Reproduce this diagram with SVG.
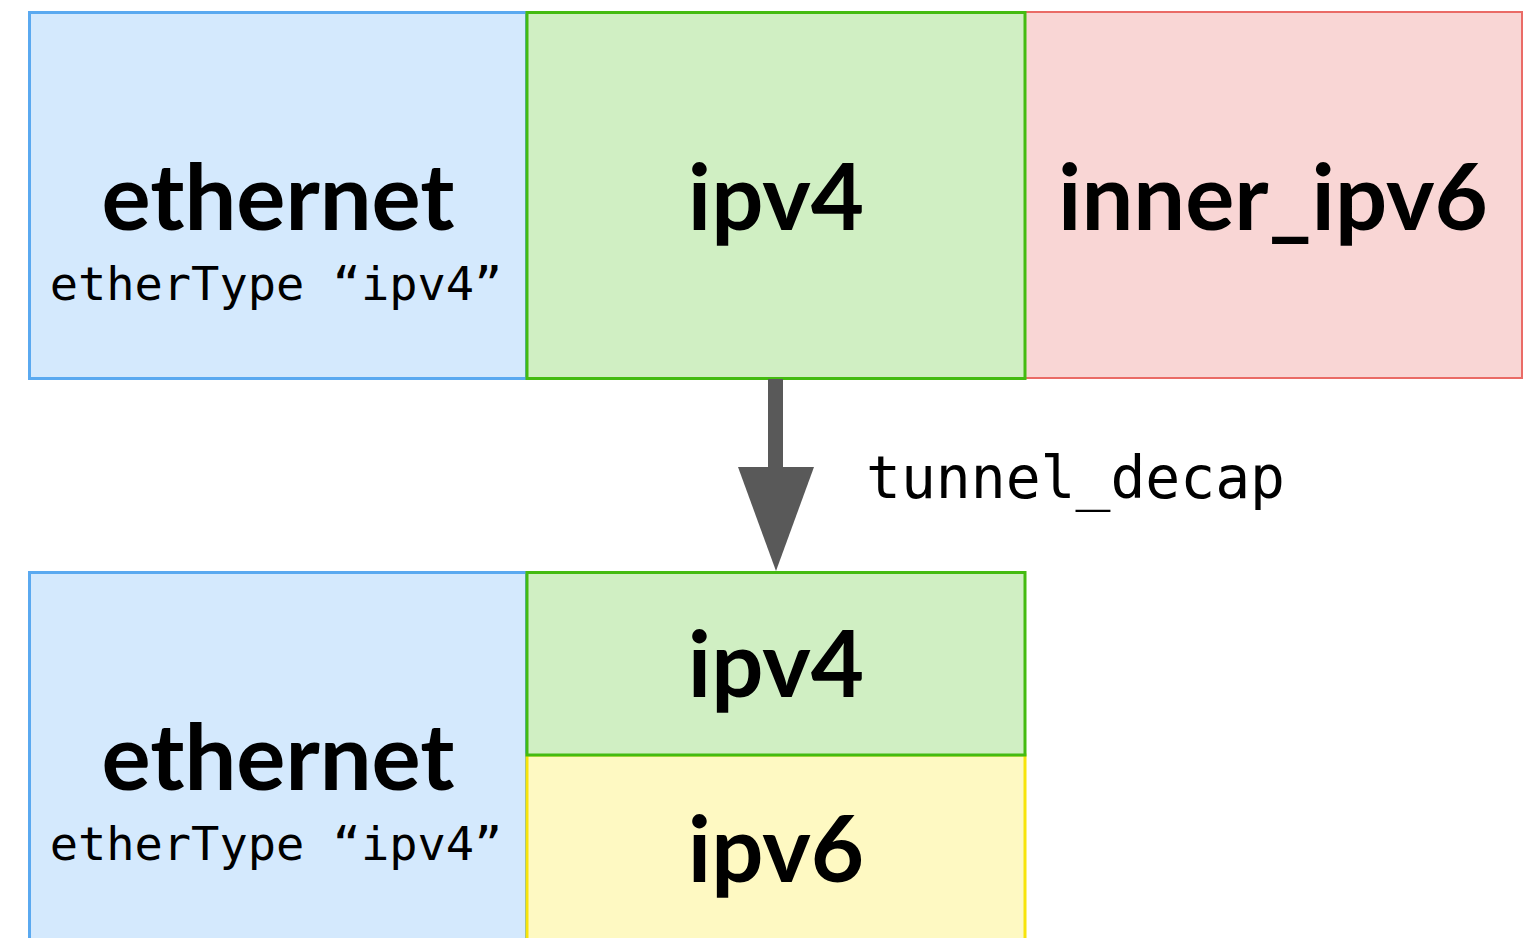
<svg xmlns="http://www.w3.org/2000/svg" width="1529" height="938" viewBox="0 0 1529 938">
<style>
.eth{fill:#d4e9fd;stroke:#5aa9f0;stroke-width:3}
.v4{fill:#d0efc3;stroke:#44bb11;stroke-width:3}
.v6{fill:#f9d6d5;stroke:#ea6b66;stroke-width:2}
.y6{fill:#fef9c2;stroke:#f7e40b;stroke-width:3}
.big{font-family:Lato,"Liberation Sans",sans-serif;font-weight:bold;font-size:92px;fill:#000;text-anchor:middle}
.mono{font-family:"DejaVu Sans Mono","Liberation Mono",monospace;font-size:47px;fill:#000;text-anchor:middle}
.lbl{font-family:"DejaVu Sans Mono","Liberation Mono",monospace;font-size:58px;fill:#000}
</style>
<rect width="1529" height="938" fill="#ffffff"/>
<g id="eth-top">
<rect class="eth" x="29.5" y="12.5" width="497" height="366"/>
<text class="big" x="278" y="230">ethernet</text>
<text class="mono" x="276" y="300">etherType “ipv4”</text>
</g>
<g id="inner-ipv6">
<rect class="v6" x="1025" y="12" width="497" height="366"/>
<text class="big" x="1273" y="230">inner_ipv6</text>
</g>
<g id="ipv4-top">
<rect class="v4" x="527" y="12.5" width="498" height="366"/>
<text class="big" x="776" y="230">ipv4</text>
</g>
<g id="eth-bottom">
<rect class="eth" x="29.5" y="572.5" width="497" height="370"/>
<text class="big" x="278" y="790">ethernet</text>
<text class="mono" x="276" y="860">etherType “ipv4”</text>
</g>
<g id="ipv6-bottom">
<rect class="y6" x="527" y="755" width="498" height="190"/>
<text class="big" x="776" y="882">ipv6</text>
</g>
<g id="ipv4-bottom">
<rect class="v4" x="527" y="572.5" width="498" height="182.5"/>
<text class="big" x="776" y="697">ipv4</text>
</g>
<g id="connectors">
<rect x="768" y="379" width="15" height="90" fill="#595959"/>
<polygon points="738,467 814,467 776,571" fill="#595959"/>
<text class="lbl" x="866" y="498">tunnel_decap</text>
</g>
</svg>
